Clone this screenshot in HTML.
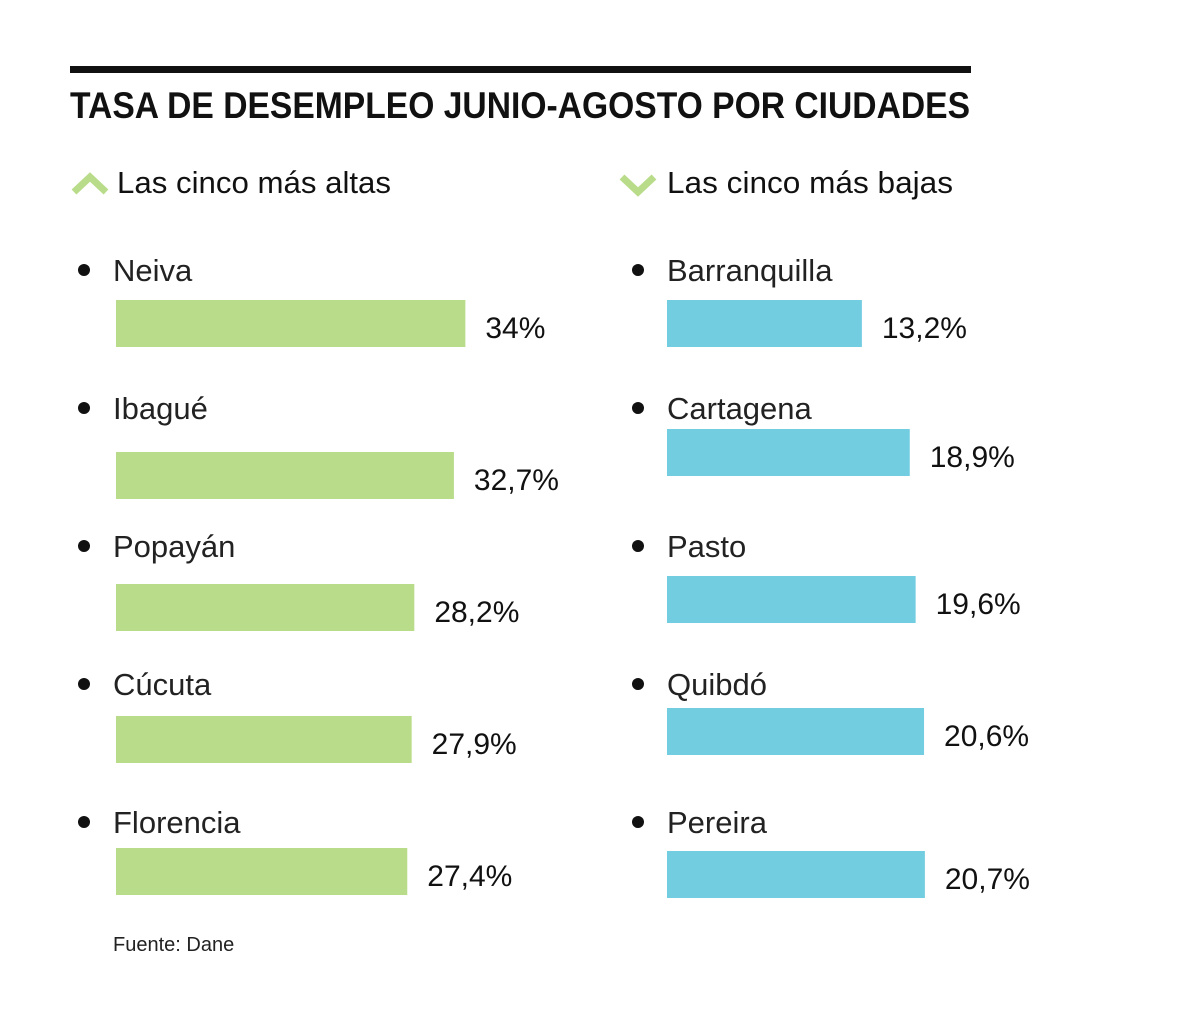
<!DOCTYPE html>
<html><head><meta charset="utf-8"><style>
html,body{margin:0;padding:0;background:#fff;}
svg{display:block;font-family:"Liberation Sans",sans-serif;}
</style></head><body>
<svg id="chart" width="1200" height="1016" viewBox="0 0 1200 1016">
<rect x="70" y="66" width="901" height="7" fill="#111"/>
<text x="70" y="118" font-size="37" font-weight="bold" fill="#111" textLength="900" lengthAdjust="spacingAndGlyphs">TASA DE DESEMPLEO JUNIO-AGOSTO POR CIUDADES</text>
<polyline points="74,192 90,177 106,192" fill="none" stroke="#b9dc8a" stroke-width="7"/>
<text x="117" y="193" font-size="31" fill="#111" textLength="274" lengthAdjust="spacingAndGlyphs">Las cinco más altas</text>
<polyline points="622,177 638,192 654,177" fill="none" stroke="#b9dc8a" stroke-width="7"/>
<text x="667" y="193" font-size="31" fill="#111" textLength="286" lengthAdjust="spacingAndGlyphs">Las cinco más bajas</text>
<g id="left"></g>
<g id="right"></g>
<text x="113" y="951" font-size="20" fill="#222">Fuente: Dane</text>
</svg>
<script>
const leftCities = ["Neiva","Ibagué","Popayán","Cúcuta","Florencia"];
const leftValues = [34, 32.7, 28.2, 27.9, 27.4];
const leftLabels = ["34%","32,7%","28,2%","27,9%","27,4%"];
const rightCities = ["Barranquilla","Cartagena","Pasto","Quibdó","Pereira"];
const rightValues = [13.2, 18.9, 19.6, 20.6, 20.7];
const rightLabels = ["13,2%","18,9%","19,6%","20,6%","20,7%"];

const NS = "http://www.w3.org/2000/svg";
const leftBarTops = [300, 452, 584, 716, 848];
const rightBarTops = [300, 429, 576, 708, 851];
function leftScale(v){ return (v + 5.7) * 8.8; }
function rightScale(v){ return (v + 10) * 8.4; }
function mk(tag, attrs){ const e = document.createElementNS(NS, tag); for (const k in attrs) e.setAttribute(k, attrs[k]); return e; }

function draw(gid, cities, values, labels, tops, x0, scale, color, textX, dotX){
  const g = document.getElementById(gid);
  cities.forEach((c, i) => {
    const cy = 270 + i * 138;
    const dot = mk("circle", {cx: dotX, cy: cy, r: 6, fill: "#111"});
    
    
    g.appendChild(dot);
    const t = mk("text", {x: textX, y: cy + 11, "font-size": 31, fill: "#222"});
    t.textContent = c;
    
    
    g.appendChild(t);
    const w = scale(values[i]);
    const bar = mk("rect", {x: x0, y: tops[i], width: w, height: 47, fill: color});
    
    
    g.appendChild(bar);
    const v = mk("text", {x: x0 + w + 20, y: tops[i] + 38, "font-size": 30, fill: "#111"});
    v.textContent = labels[i];
    
    
    g.appendChild(v);
  });
}
draw("left", leftCities, leftValues, leftLabels, leftBarTops, 116, leftScale, "#b9dc8a", 113, 84);
draw("right", rightCities, rightValues, rightLabels, rightBarTops, 667, rightScale, "#72cde0", 667, 638);
</script>
</body></html>
